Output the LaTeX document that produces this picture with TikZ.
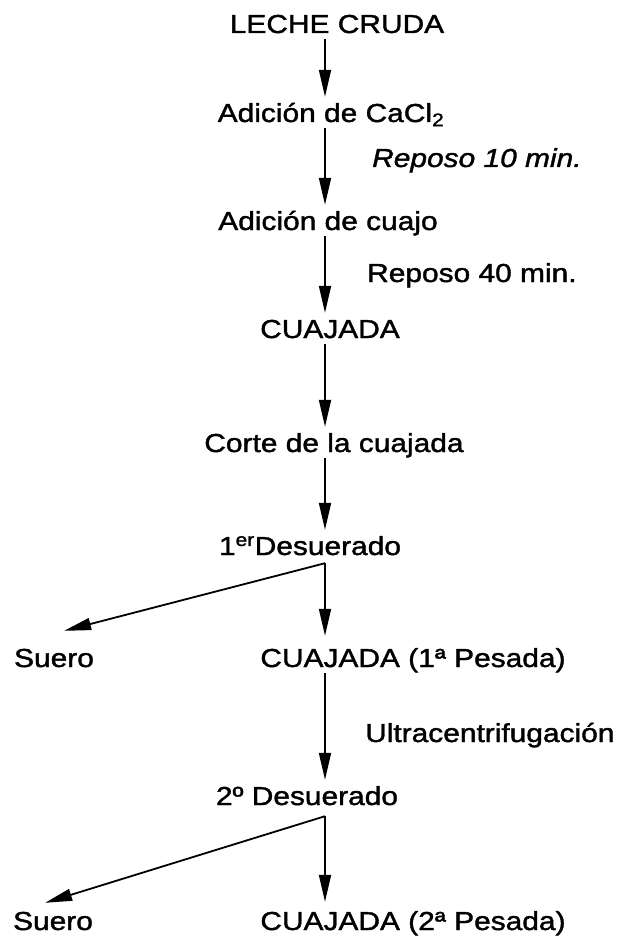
\documentclass[tikz,border=0pt]{standalone}
\usepackage{fontspec}
\setmainfont{Liberation Sans}[FakeStretch=1.15, FakeBold=1.5]
\usetikzlibrary{arrows.meta, positioning, calc}

\begin{document}
\begin{tikzpicture}[
    x=1pt, y=-1pt,
    >={Triangle[length=27pt,width=12pt]},
    every node/.style={align=center, font=\fontsize{26}{30}\selectfont, inner sep=0pt}
]
    % Define styles
    \tikzstyle{paso} = [text height=19pt, text depth=5pt, anchor=base]
    \tikzstyle{nota} = [paso, anchor=base west]
    \tikzstyle{flecha} = [line width=1.8pt, ->, shorten <=1pt, shorten >=6pt]
    \tikzstyle{rama} = [line width=1.8pt, ->]

    \useasboundingbox (0,0) rectangle (619,936);
    \coordinate (eje) at (325,0);

    % Main column
    \node [paso] (leche) at (337,33) {LECHE CRUDA};
    \node [paso] (cacl) at (331,122) {Adición de CaCl\textsubscript{2}};
    \node [paso] (cuajo) at (328,230) {Adición de cuajo};
    \node [paso] (cuajada) at (330,338) {CUAJADA};
    \node [paso] (corte) at (334,452) {Corte de la cuajada};
    \node [paso] (desu1) at (310,555) {1\textsuperscript{er}Desuerado};
    \node [paso] (pesada1) at (413,667) {CUAJADA (1ª Pesada)};
    \node [paso] (desu2) at (307,805) {2º Desuerado};
    \node [paso] (pesada2) at (413,930) {CUAJADA (2ª Pesada)};

    % Whey outputs
    \node [paso] (suero1) at (54,667) {Suero};
    \node [paso] (suero2) at (53,930) {Suero};

    % Notes beside the arrows
    \node [nota, font=\fontsize{26}{30}\selectfont\itshape] (reposo10) at (372,167) {Reposo 10 min.};
    \node [nota] (reposo40) at (367,282) {Reposo 40 min.};
    \node [nota] (ultra) at (365,742) {Ultracentrifugación};

    % Arrows down the main column
    \draw [flecha] (leche.south -| eje) -- (cacl.north -| eje);
    \draw [flecha] (cacl.south -| eje) -- (cuajo.north -| eje);
    \draw [flecha] (cuajo.south -| eje) -- (cuajada.north -| eje);
    \draw [flecha] (cuajada.south -| eje) -- (corte.north -| eje);
    \draw [flecha] (corte.south -| eje) -- (desu1.north -| eje);
    \draw [flecha] (pesada1.south -| eje) -- (desu2.north -| eje);

    % First whey separation
    \coordinate (rama1) at ([yshift=-3pt]desu1.south -| eje);
    \coordinate (fin1) at ([xshift=-30pt,yshift=17pt]suero1.north east);
    \draw [rama, shorten >=12pt] (rama1) -- (pesada1.north -| eje);
    \draw [rama] (rama1) -- (fin1);

    % Second whey separation
    \coordinate (rama2) at ([yshift=-6pt]desu2.south -| eje);
    \coordinate (fin2) at ([xshift=-48pt,yshift=8pt]suero2.north east);
    \draw [rama, shorten >=9pt] (rama2) -- (pesada2.north -| eje);
    \draw [rama] (rama2) -- (fin2);
\end{tikzpicture}
\end{document}
